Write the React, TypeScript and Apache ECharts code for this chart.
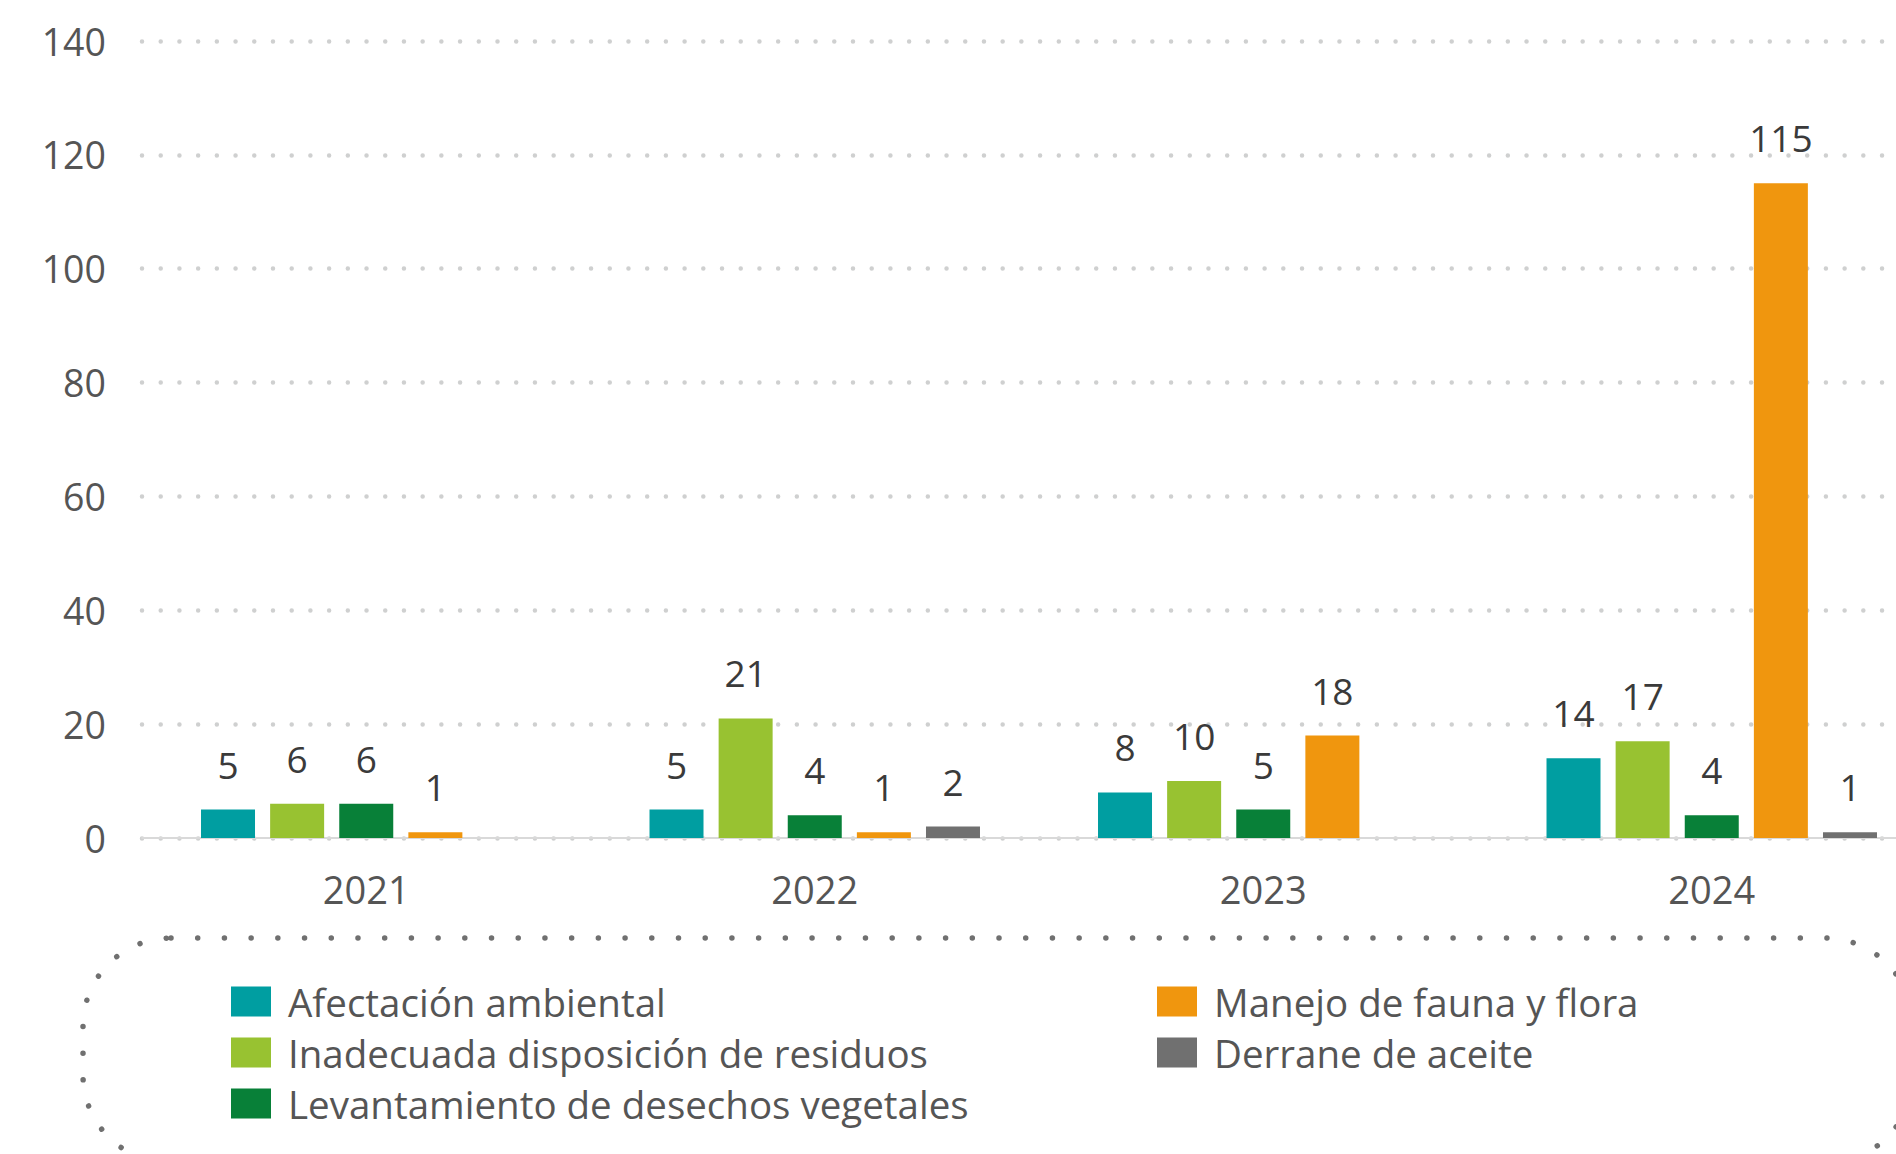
import React, { useEffect, useRef } from "react";
import * as echarts from "echarts";

const years = ["2021", "2022", "2023", "2024"];
const seriesNames = [
  "Afectación ambiental",
  "Inadecuada disposición de residuos",
  "Levantamiento de desechos vegetales",
  "Manejo de fauna y flora",
  "Derrane de aceite",
];
const afectacion = [5, 5, 8, 14];
const inadecuada = [6, 21, 10, 17];
const levantamiento = [6, 4, 5, 4];
const manejo = [1, 1, 18, 115];
const derrame: (number | null)[] = [null, 2, null, 1];
const colors = ["#009EA1", "#98C231", "#088038", "#F0960E", "#707070"];
const yTicks = { min: 0, max: 140, interval: 20 };

const FONT = "'Open Sans', sans-serif";

export default function App() {
  const ref = useRef<HTMLDivElement>(null);
  useEffect(() => {
    if (!ref.current) return;
    const chart = echarts.init(ref.current, null, { renderer: "svg" });
    const values = [afectacion, inadecuada, levantamiento, manejo, derrame];
    const series = seriesNames.map((name, i) => ({
      name,
      type: "bar",
      data: values[i],
      barWidth: 54,
      barGap: "28%",
      itemStyle: { color: colors[i] },
      label: {
        show: true,
        position: "top",
        distance: 27,
        color: "#3a3a3a",
        fontSize: 37,
        fontFamily: FONT,
      },
    }));
    const legendText = {
      color: "#555555",
      fontSize: 38.5,
      fontFamily: FONT,
      lineHeight: 30,
      padding: [0, 0, 0, 12],
    };
    chart.setOption({
      animation: false,
      backgroundColor: "#ffffff",
      grid: {
        left: 142,
        top: 41,
        width: 1794,
        height: 797,
        containLabel: false,
        outerBoundsMode: "none",
      },
      xAxis: {
        type: "category",
        data: years,
        axisLine: { show: true, lineStyle: { color: "#d9d9d9", width: 2 } },
        axisTick: { show: false },
        axisLabel: { color: "#555555", fontSize: 38, fontFamily: FONT, margin: 32 },
      },
      yAxis: {
        type: "value",
        min: yTicks.min,
        max: yTicks.max,
        interval: yTicks.interval,
        axisLine: { show: false },
        axisTick: { show: false },
        axisLabel: { color: "#555555", fontSize: 37.5, fontFamily: FONT, margin: 36 },
        splitLine: {
          show: true,
          lineStyle: { color: "#cfd0d0", width: 4.5, type: [0.01, 18.7], cap: "round" },
        },
      },
      legend: [
        {
          data: seriesNames.slice(0, 3),
          orient: "vertical",
          left: 226,
          top: 977,
          icon: "rect",
          itemWidth: 40,
          itemHeight: 30,
          itemGap: 12,
          textStyle: legendText,
        },
        {
          data: seriesNames.slice(3),
          orient: "vertical",
          left: 1152,
          top: 977,
          icon: "rect",
          itemWidth: 40,
          itemHeight: 30,
          itemGap: 12,
          textStyle: legendText,
        },
      ],
      graphic: [
        {
          type: "rect",
          silent: true,
          shape: { x: 83, y: 938, width: 1830, height: 225, r: 88 },
          style: {
            fill: "none",
            stroke: "#707070",
            lineWidth: 5.5,
            lineDash: [0.01, 26.7],
            lineCap: "round",
          },
        },
      ],
      series,
    });
    return () => chart.dispose();
  }, []);
  return (
    <div
      ref={ref}
      style={{ position: "absolute", left: 0, top: 0, width: 1896, height: 1154 }}
    />
  );
}
